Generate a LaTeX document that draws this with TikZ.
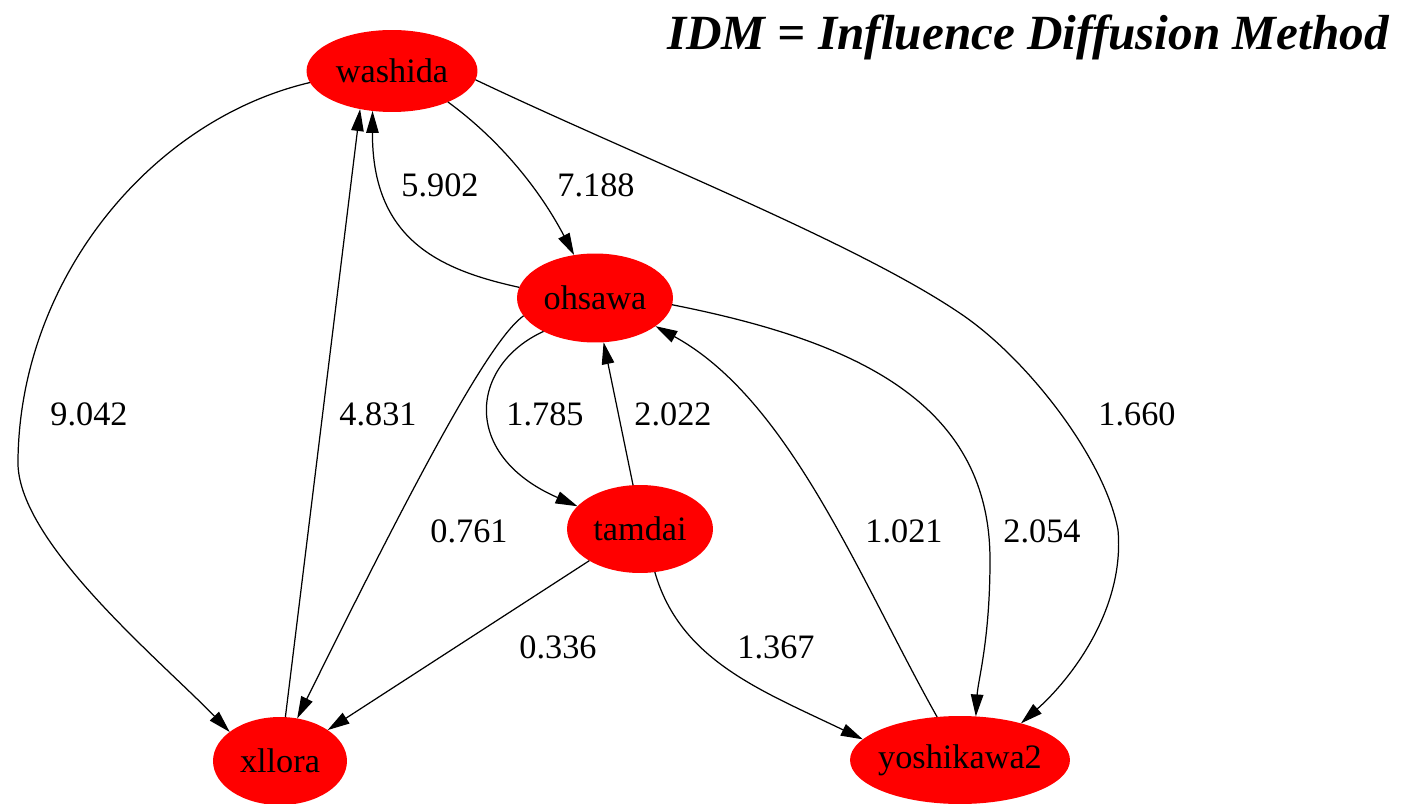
\documentclass[tikz,border=0pt]{standalone}
\usepackage{fontspec}
\setmainfont{Liberation Serif}
\usetikzlibrary{arrows.meta, shapes.geometric}

\begin{document}
\begin{tikzpicture}[x=0.02cm, y=-0.02cm]
    % Define styles
    \tikzstyle{person}=[ellipse, fill=red, inner sep=0pt, outer sep=0pt, minimum height=1.76cm, font=\fontsize{19.5}{22}\selectfont]
    \tikzstyle{link}=[line width=0.7pt, -{Triangle[length=0.44cm, width=0.25cm]}]
    \tikzstyle{weight}=[inner sep=0pt, font=\fontsize{19.5}{22}\selectfont]

    \clip (0,0) rectangle (1403,804);

    % Title
    \node[anchor=base, font=\fontsize{28}{30}\selectfont\bfseries\itshape] (title) at (1028,50) {IDM = Influence Diffusion Method};

    % People
    \node[person, minimum width=3.42cm, minimum height=1.64cm] (washida) at (392,71) {washida};
    \node[person, minimum width=3.12cm, minimum height=1.78cm] (ohsawa) at (595,298) {ohsawa};
    \node[person, minimum width=2.92cm] (tamdai) at (640,529) {tamdai};
    \node[person, minimum width=2.68cm] (xllora) at (280,761) {xllora};
    \node[person, minimum width=4.4cm, inner xsep=-3pt] (yoshikawa2) at (960,760) {yoshikawa2};

    % Influence links
    \draw[link] (washida.188) .. controls (150,120) and (20,280) .. (18,460) .. controls (15,540) and (160,660) .. (xllora.150);
    \draw[link] (xllora.83.5) -- (washida.230.5);
    \draw[link] (ohsawa.172) .. controls (440,270) and (372,240) .. (washida.244);
    \draw[link] (washida.-29) .. controls (500,140) and (540,190) .. (ohsawa.116);
    \draw[link] (washida.-6) .. controls (640,158) and (860,244) .. (964,316) .. controls (1030,362) and (1105,460) .. (1118,530) .. controls (1125,610) and (1070,680) .. (yoshikawa2.31);
    \draw[link] (ohsawa.194.6) .. controls (490,340) and (420,470) .. (xllora.68.4);
    \draw[link] (ohsawa.213.4) .. controls (470,365) and (460,455) .. (tamdai.160.7);
    \draw[link] (tamdai.99) -- (ohsawa.-79.7);
    \draw[link] (ohsawa.-5.1) .. controls (850,340) and (990,400) .. (990,560) .. controls (990,640) and (978,680) .. (yoshikawa2.70.8);
    \draw[link] (yoshikawa2.118) .. controls (860,580) and (790,400) .. (ohsawa.-25);
    \draw[link] (tamdai.212.7) -- (xllora.33.4);
    \draw[link] (tamdai.-71.2) .. controls (680,660) and (760,690) .. (yoshikawa2.168);

    % Weights
    \node[weight] (wx) at (89,414) {9.042};
    \node[weight] (xw) at (378,414) {4.831};
    \node[weight] (ow) at (440,185) {5.902};
    \node[weight] (wo) at (596,185) {7.188};
    \node[weight] (wy) at (1137,414) {1.660};
    \node[weight] (ot) at (545,414) {1.785};
    \node[weight] (to) at (673,414) {2.022};
    \node[weight] (ox) at (469,531) {0.761};
    \node[weight] (yo) at (904,531) {1.021};
    \node[weight] (oy) at (1042,531) {2.054};
    \node[weight] (tx) at (558,647) {0.336};
    \node[weight] (ty) at (776,647) {1.367};
\end{tikzpicture}
\end{document}
